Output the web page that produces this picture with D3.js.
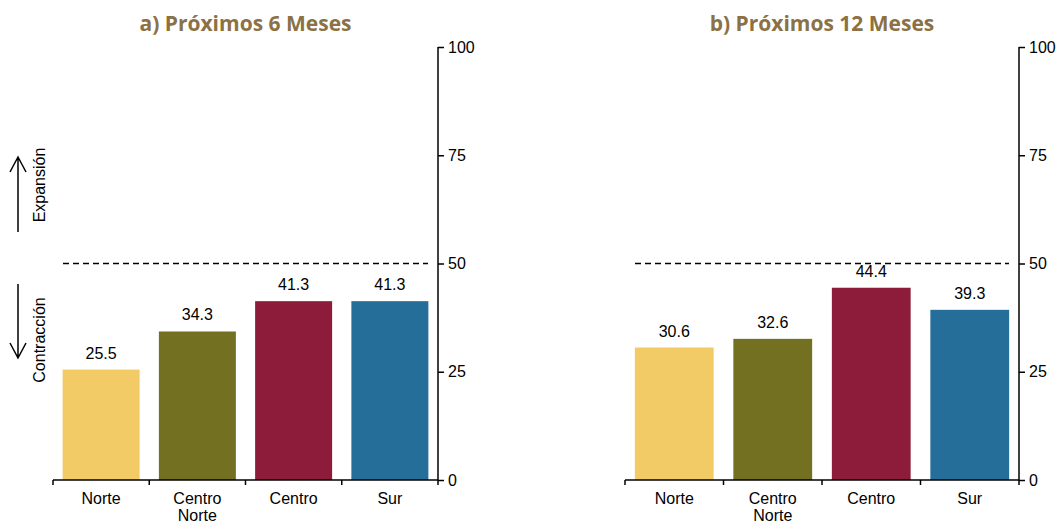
<!DOCTYPE html>
<html><head><meta charset="utf-8">
<script src="https://cdn.jsdelivr.net/npm/d3@7"></script>
<style>body{margin:0;background:#fff} text{font-family:"Liberation Sans", Arial, sans-serif;font-size:16px}</style>
</head><body><svg id="c" width="1064" height="527"></svg>
<script>
var regions = ["Norte", "Centro Norte", "Centro", "Sur"];
var colors = ["#F2CB67", "#737022", "#8C1C3A", "#266E9A"];
var values6 = [25.5, 34.3, 41.3, 41.3];
var values12 = [30.6, 32.6, 44.4, 39.3];
var yTicks = [0, 25, 50, 75, 100];
var threshold = 50;

const svg = d3.select('#c');

const y = d3.scaleLinear().domain([0, 100]).range([480, 47]);

function panel(x0, x1, title, values) {
    const g = svg.append('g');
    const x = d3.scaleBand().domain(regions).range([x0, x1]).paddingInner(0.2).paddingOuter(0.1);

    g.selectAll('rect').data(values).enter().append('rect')
        .attr('x', (d, i) => x(regions[i]))
        .attr('width', x.bandwidth())
        .attr('y', d => y(d))
        .attr('height', d => y(0) - y(d))
        .attr('fill', (d, i) => colors[i]);

    g.selectAll('.val').data(values).enter().append('text')
        .attr('x', (d, i) => x(regions[i]) + x.bandwidth() / 2)
        .attr('y', d => y(d) - 11)
        .attr('text-anchor', 'middle')
        .text(d => d.toFixed(1));

    g.append('line')
        .attr('x1', x0 + 10).attr('x2', x1 - 10)
        .attr('y1', y(threshold)).attr('y2', y(threshold))
        .attr('stroke', '#000').attr('stroke-width', 1.5).attr('stroke-dasharray', '6,4');

    // x axis
    g.append('line').attr('x1', x0).attr('x2', x1).attr('y1', y(0)).attr('y2', y(0))
        .attr('stroke', '#000').attr('stroke-width', 1.5);
    const step = (x1 - x0) / regions.length;
    d3.range(regions.length + 1).forEach(i => {
        g.append('line').attr('x1', x0 + i * step).attr('x2', x0 + i * step)
            .attr('y1', y(0)).attr('y2', y(0) + 5).attr('stroke', '#000').attr('stroke-width', 1.5);
    });
    regions.forEach((r, i) => {
        const t = g.append('text').attr('text-anchor', 'middle');
        r.split(' ').forEach((w, j) => {
            t.append('tspan').attr('x', x(r) + x.bandwidth() / 2).attr('y', 504 + j * 17).text(w);
        });
    });

    // right y axis
    g.append('g').attr('transform', `translate(${x1},0)`)
        .call(d3.axisRight(y).tickValues(yTicks).tickSize(6).tickPadding(4))
        .call(a => a.selectAll('text').attr('font-family', null).attr('font-size', null).attr('fill', '#000'))
        .call(a => a.selectAll('line,path').attr('stroke', '#000').attr('stroke-width', 1.5))
        .call(a => a.select('path').attr('d', `M0,${y(0)}V${y(100)}`));

    svg.append('text').attr('x', (x0 + x1) / 2) .attr('y', 31)
        .attr('text-anchor', 'middle')
        .style('font-family', '"Open Sans", sans-serif').style('font-size', '21px').style('font-weight', 'bold')
        .attr('fill', '#8B7143')
        .text(title);
}

panel(53, 438, 'a) Próximos 6 Meses', values6);
panel(625, 1019, 'b) Próximos 12 Meses', values12);

// expansion / contraction arrows
function arrow(x, yFrom, yTo) {
    const dir = yTo < yFrom ? 1 : -1;
    svg.append('path').attr('d', `M${x},${yFrom}V${yTo}M${x - 8},${yTo + dir * 15}L${x},${yTo}L${x + 8},${yTo + dir * 15}`)
        .attr('stroke', '#000').attr('stroke-width', 1.5).attr('fill', 'none');
}
arrow(18, 232, 157);
arrow(18, 284, 358);
svg.append('text').attr('transform', 'translate(45,185) rotate(-90)').attr('text-anchor', 'middle').text('Expansión');
svg.append('text').attr('transform', 'translate(45,340) rotate(-90)').attr('text-anchor', 'middle').text('Contracción');
</script></body></html>
